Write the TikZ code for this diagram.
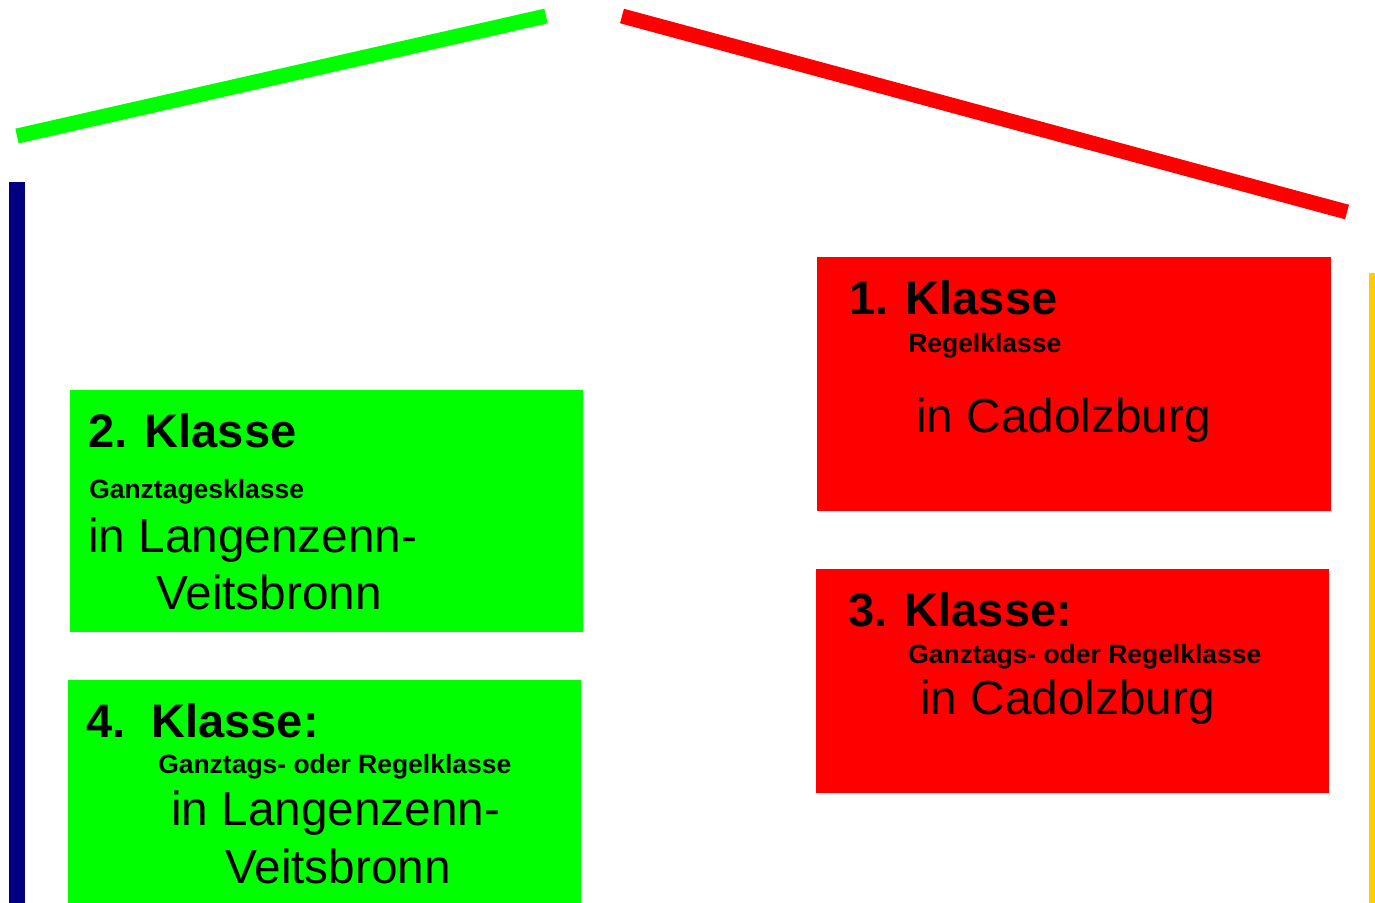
\documentclass[tikz,border=0pt]{standalone}
\usepackage{fontspec}
\setmainfont{Liberation Sans}
\definecolor{kgreen}{RGB}{0,255,0}
\definecolor{kred}{RGB}{255,0,0}
\definecolor{knavy}{RGB}{0,0,128}
\definecolor{kyellow}{RGB}{255,204,0}
\tikzset{
  big/.style={anchor=base west, inner sep=0pt, font=\fontsize{35.8}{40}\selectfont},
  bigb/.style={anchor=base west, inner sep=0pt, font=\fontsize{35.25}{40}\selectfont\bfseries},
  small/.style={anchor=base west, inner sep=0pt, font=\fontsize{19.85}{24}\selectfont\bfseries},
  roof/.style={line width=11.25pt, line cap=butt}
}
\begin{document}
\begin{tikzpicture}[x=0.75pt,y=-0.75pt]
\useasboundingbox (0,0) rectangle (1375,903);
% roof lines
\coordinate (gA) at (17,136);
\coordinate (gB) at (546,16);
\coordinate (rA) at (622,16);
\coordinate (rB) at (1347,212);
\draw[roof, kgreen] (gA) -- (gB);
\draw[roof, kred] (rA) -- (rB);
% side bars
\fill[knavy] (9,182) rectangle (25,903);
\fill[kyellow] (1369,273) rectangle (1375,903);
% boxes
\fill[kgreen] (70,390) rectangle (583,632);
\fill[kgreen] (68,680) rectangle (581,903);
\fill[kred] (817,257) rectangle (1331,511);
\fill[kred] (816,569) rectangle (1329,793);
% box 2
\node[bigb] (t2) at (88,447) {2. Klasse};
\node[small] (s2) at (89,498) {Ganztagesklasse};
\node[big] (l2a) at (88,552) {in Langenzenn-};
\node[big] (l2b) at (156,609) {Veitsbronn};
% box 4
\node[bigb] (t4) at (86,737) {4.\ \ Klasse:};
\node[small] (s4) at (158,773) {Ganztags- oder Regelklasse};
\node[big] (l4a) at (171,825) {in Langenzenn-};
\node[big] (l4b) at (225,883) {Veitsbronn};
% box 1
\node[bigb] (t1) at (849,314) {1. Klasse};
\node[small] (s1) at (908,352) {Regelklasse};
\node[big] (l1) at (916,432) {in Cadolzburg};
% box 3
\node[bigb] (t3) at (848,626) {3. Klasse:};
\node[small] (s3) at (908,663) {Ganztags- oder Regelklasse};
\node[big] (l3) at (920,714) {in Cadolzburg};
\end{tikzpicture}
\end{document}
